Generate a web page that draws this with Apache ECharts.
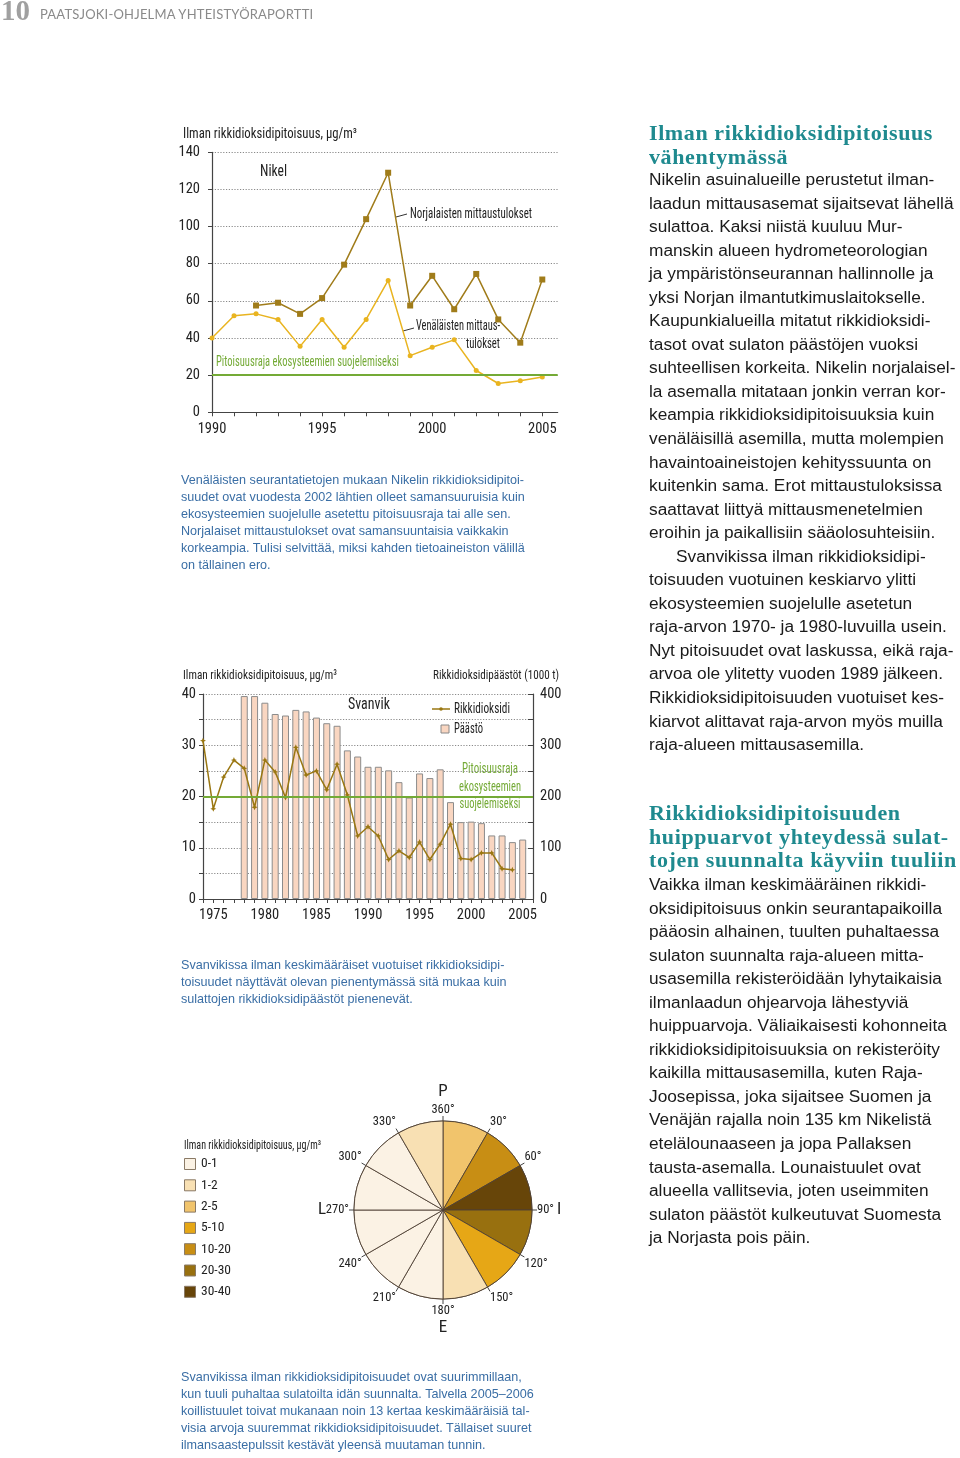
<!DOCTYPE html>
<html><head><meta charset="utf-8">
<script src="https://cdn.jsdelivr.net/npm/echarts@6/dist/echarts.min.js"></script>
<style>
html,body{margin:0;padding:0;background:#fff;}
#page{position:relative;width:960px;height:1458px;overflow:hidden;background:#fff;}
#chart{position:absolute;left:0;top:0;width:960px;height:1458px;}
.t{position:absolute;white-space:nowrap;}
.cap{font-family:'Liberation Sans',Arial,sans-serif;font-size:12.6px;line-height:16.9px;color:#3a6ea5;}
.body{font-family:'Liberation Sans',Arial,sans-serif;font-size:17.3px;line-height:23.55px;color:#1a1a1a;}
.h{font-family:'Liberation Serif',serif;font-weight:bold;font-size:22px;letter-spacing:0.6px;line-height:23.5px;color:#1f8a8f;}
</style></head>
<body>
<div id="page">
<div id="chart"></div>
<div class="t" style="left:1px;top:-6px;font-family:'Liberation Serif',serif;font-weight:bold;font-size:29px;color:#a0a0a0;">10</div>
<div class="t" style="left:40px;top:6px;font-family:Lato,'Liberation Sans',sans-serif;font-size:13px;color:#8a8a8a;letter-spacing:0.2px;">PAATSJOKI-OHJELMA YHTEISTYÖRAPORTTI</div>

<div class="t cap" style="left:181px;top:472px;">Venäläisten seurantatietojen mukaan Nikelin rikkidioksidipitoi-<br>suudet ovat vuodesta 2002 lähtien olleet samansuuruisia kuin<br>ekosysteemien suojelulle asetettu pitoisuusraja tai alle sen.<br>Norjalaiset mittaustulokset ovat samansuuntaisia vaikkakin<br>korkeampia. Tulisi selvittää, miksi kahden tietoaineiston välillä<br>on tällainen ero.</div>

<div class="t cap" style="left:181px;top:957px;">Svanvikissa ilman keskimääräiset vuotuiset rikkidioksidipi-<br>toisuudet näyttävät olevan pienentymässä sitä mukaa kuin<br>sulattojen rikkidioksidipäästöt pienenevät.</div>

<div class="t cap" style="left:181px;top:1369px;">Svanvikissa ilman rikkidioksidipitoisuudet ovat suurimmillaan,<br>kun tuuli puhaltaa sulatoilta idän suunnalta. Talvella 2005–2006<br>koillistuulet toivat mukanaan noin 13 kertaa keskimääräisiä tal-<br>visia arvoja suuremmat rikkidioksidipitoisuudet. Tällaiset suuret<br>ilmansaastepulssit kestävät yleensä muutaman tunnin.</div>

<div class="t h" style="left:649px;top:121px;">Ilman rikkidioksidipitoisuus<br>vähentymässä</div>
<div class="t body" style="left:649px;top:168px;">Nikelin asuinalueille perustetut ilman-<br>laadun mittausasemat sijaitsevat lähellä<br>sulattoa. Kaksi niistä kuuluu Mur-<br>manskin alueen hydrometeorologian<br>ja ympäristönseurannan hallinnolle ja<br>yksi Norjan ilmantutkimuslaitokselle.<br>Kaupunkialueilla mitatut rikkidioksidi-<br>tasot ovat sulaton päästöjen vuoksi<br>suhteellisen korkeita. Nikelin norjalaisel-<br>la asemalla mitataan jonkin verran kor-<br>keampia rikkidioksidipitoisuuksia kuin<br>venäläisillä asemilla, mutta molempien<br>havaintoaineistojen kehityssuunta on<br>kuitenkin sama. Erot mittaustuloksissa<br>saattavat liittyä mittausmenetelmien<br>eroihin ja paikallisiin sääolosuhteisiin.<br><span style="padding-left:27px">Svanvikissa ilman rikkidioksidipi-</span><br>toisuuden vuotuinen keskiarvo ylitti<br>ekosysteemien suojelulle asetetun<br>raja-arvon 1970- ja 1980-luvuilla usein.<br>Nyt pitoisuudet ovat laskussa, eikä raja-<br>arvoa ole ylitetty vuoden 1989 jälkeen.<br>Rikkidioksidipitoisuuden vuotuiset kes-<br>kiarvot alittavat raja-arvon myös muilla<br>raja-alueen mittausasemilla.</div>

<div class="t h" style="left:649px;top:801px;">Rikkidioksidipitoisuuden<br>huippuarvot yhteydessä sulat-<br>tojen suunnalta käyviin tuuliin</div>
<div class="t body" style="left:649px;top:873px;">Vaikka ilman keskimääräinen rikkidi-<br>oksidipitoisuus onkin seurantapaikoilla<br>pääosin alhainen, tuulten puhaltaessa<br>sulaton suunnalta raja-alueen mitta-<br>usasemilla rekisteröidään lyhytaikaisia<br>ilmanlaadun ohjearvoja lähestyviä<br>huippuarvoja. Väliaikaisesti kohonneita<br>rikkidioksidipitoisuuksia on rekisteröity<br>kaikilla mittausasemilla, kuten Raja-<br>Joosepissa, joka sijaitsee Suomen ja<br>Venäjän rajalla noin 135 km Nikelistä<br>etelälounaaseen ja jopa Pallaksen<br>tausta-asemalla. Lounaistuulet ovat<br>alueella vallitsevia, joten useimmiten<br>sulaton päästöt kulkeutuvat Suomesta<br>ja Norjasta pois päin.</div>
</div>
<script>
// ---------- DATA ----------
const nikelYears = [1990,1991,1992,1993,1994,1995,1996,1997,1998,1999,2000,2001,2002,2003,2004,2005];
const nikelRussian = [40,52,53,50,35.5,50,35,50,71,30.5,35,39,22.5,15.5,17,19];
const nikelNorwegian = [null,null,57.5,59,53,61.5,79.5,104,129,57.5,73.5,55.5,74.5,50,37.5,71.5];
const nikelLimit = 20;
const nikelXLabels = [1990,1995,2000,2005];

const svanSo2Years = [1974,1975,1976,1977,1978,1979,1980,1981,1982,1983,1984,1985,1986,1987,1988,1989,1990,1991,1992,1993,1994,1995,1996,1997,1998,1999,2000,2001,2002,2003,2004];
const svanSo2 = [30.9,17.6,23.8,27.1,25.5,17.9,27.1,24.8,19.8,29.6,24.2,25.0,21.3,26.3,20.3,12.3,14.1,12.3,7.7,9.4,8.1,11.1,7.7,10.7,14.6,7.9,7.7,9.0,9.0,5.9,5.7];
const emissionYears = [1978,1979,1980,1981,1982,1983,1984,1985,1986,1987,1988,1989,1990,1991,1992,1993,1994,1995,1996,1997,1998,1999,2000,2001,2002,2003,2004,2005];
const emissions = [396,396,383,361,358,369,366,354,343,338,290,278,258,258,251,228,198,245,236,253,189,150,151,148,124,124,111,116];
const svanLimit = 20;
const svanXLabels = [1975,1980,1985,1990,1995,2000,2005];

const windSectors = ['0-30','30-60','60-90','90-120','120-150','150-180','180-210','210-240','240-270','270-300','300-330','330-360'];
const sectorClass = ['2-5','10-20','30-40','20-30','5-10','1-2','0-1','0-1','0-1','0-1','0-1','1-2'];
const classLabels = ['0-1','1-2','2-5','5-10','10-20','20-30','30-40'];
const classColors = ['#fbf2e4','#f8e0b3','#f1c46c','#e6a716','#c88e14','#98700f','#674509'];

// ---------- STYLE ----------
const NF = "'Roboto Condensed','Liberation Sans',sans-serif";
const DARK = '#a07c1a', GOLD = '#e9b420', GREEN = '#74aa36', SO2 = '#9a7712';
const range = (a,b)=>{const r=[];for(let i=a;i<=b;i++)r.push(i);return r;};
const yearFmt = v => String(v);

const mctx = document.createElement('canvas').getContext('2d');
function measure(text,size){ mctx.font = size+'px '+NF; return mctx.measureText(text).width; }

const chart = echarts.init(document.getElementById('chart'), null, {renderer:'canvas'});
const pieData = windSectors.map((s,i)=>({name:s, value:1, itemStyle:{color:classColors[classLabels.indexOf(sectorClass[i])]}}));

const graphics = [];
function txt(text,x,y,size,targetW,opt){
  const sx = targetW ? targetW/measure(text,size) : 1;
  graphics.push({type:'text', silent:true, x:x, y:y, scaleX:sx,
    style:Object.assign({text:text,x:0,y:0,fontFamily:NF,fontSize:size,fill:'#222',textVerticalAlign:'middle',textAlign:'left'}, opt||{})});
}
function ln(x1,y1,x2,y2,color,w){ graphics.push({type:'line',silent:true,shape:{x1,y1,x2,y2},style:{stroke:color,lineWidth:w||1}}); }

// chart 1 annotations
txt('Ilman rikkidioksidipitoisuus, μg/m³',183,134,14.5,174);
txt('Nikel',260,172,17,27);
txt('Norjalaisten mittaustulokset',410,214,14.5,122);
ln(396,217,407,214,'#333',1);
txt('Venäläisten mittaus-',416,326,14.5,84);
txt('tulokset',500,344,14.5,34,{textAlign:'right'});
ln(403,331,414,328,'#333',1);
txt('Pitoisuusraja ekosysteemien suojelemiseksi',216,362,14.5,183,{fill:GREEN});
// chart 2 annotations
txt('Ilman rikkidioksidipitoisuus, μg/m³',183,676,13.5,154);
txt('Rikkidioksidipäästöt (1000 t)',559,676,13.5,126,{textAlign:'right'});
txt('Svanvik',348,705,17,42);
ln(432,709,450,709,SO2,1.5);
graphics.push({type:'circle',silent:true,shape:{cx:441,cy:709,r:1.8},style:{fill:SO2}});
txt('Rikkidioksidi',454,709,14,56);
graphics.push({type:'rect',silent:true,shape:{x:441,y:725,width:8,height:8},style:{fill:'#f9d6c1',stroke:'#888',lineWidth:1}});
txt('Päästö',454,729,14,29);
txt('Pitoisuusraja',490,769,14.5,56,{fill:GREEN,textAlign:'center'});
txt('ekosysteemien',490,787,14.5,62,{fill:GREEN,textAlign:'center'});
txt('suojelemiseksi',490,804,14.5,61,{fill:GREEN,textAlign:'center'});
// pie legend
txt('Ilman rikkidioksidipitoisuus, μg/m³',184,1146,13,137);
classLabels.forEach((c,i)=>{
  const y = 1158 + i*21.3;
  graphics.push({type:'rect',silent:true,shape:{x:184.5,y:y+0.5,width:11,height:11},style:{fill:classColors[i],stroke:'#8a7a66',lineWidth:1}});
  txt(c,201,y+6,13.5,null);
});
txt('P',443,1092,17,null,{textAlign:'center'});
txt('E',443,1328,17,null,{textAlign:'center'});
txt('I',559,1210,17,null,{textAlign:'center'});
txt('L',322,1210,17,null,{textAlign:'center'});

const axisLbl = {fontFamily:NF,fontSize:14.5,color:'#222'};
const option = {
  animation:false,
  backgroundColor:'transparent',
  textStyle:{fontFamily:NF},
  grid:[
    {left:212, top:152.3, width:345.7, height:260, containLabel:false},
    {left:203, top:694, width:330, height:205, containLabel:false}
  ],
  xAxis:[
    {gridIndex:0, type:'value', min:1990, max:2005.7,
     axisLine:{show:true,lineStyle:{color:'#444',width:1.2}},
     axisTick:{show:true,length:4,customValues:nikelYears,lineStyle:{color:'#444'}},
     axisLabel:Object.assign({customValues:nikelXLabels,margin:10,formatter:yearFmt},axisLbl),
     splitLine:{show:false}},
    {gridIndex:1, type:'value', min:1974, max:2006,
     axisLine:{show:true,lineStyle:{color:'#444',width:1.2}},
     axisTick:{show:true,length:4,customValues:range(1974,2006),lineStyle:{color:'#444'}},
     axisLabel:Object.assign({customValues:svanXLabels,margin:9,formatter:yearFmt},axisLbl),
     splitLine:{show:false}}
  ],
  yAxis:[
    {gridIndex:0, type:'value', min:0, max:140, interval:20,
     axisLine:{show:true,lineStyle:{color:'#444',width:1.2}},
     axisTick:{show:true,length:4,lineStyle:{color:'#444'}},
     axisLabel:Object.assign({margin:12},axisLbl),
     splitLine:{show:true,lineStyle:{color:'#8a8a8a',type:[1.2,1.6],width:1}}},
    {gridIndex:1, type:'value', min:0, max:40, interval:5,
     axisLine:{show:true,lineStyle:{color:'#444',width:1.2}},
     axisTick:{show:true,length:4,lineStyle:{color:'#444'}},
     axisLabel:Object.assign({margin:7,formatter:v=>v%10===0?String(v):''},axisLbl),
     splitLine:{show:true,lineStyle:{color:'#8a8a8a',type:[1.2,1.6],width:1}}},
    {gridIndex:1, type:'value', position:'right', min:0, max:400, interval:50,
     axisLine:{show:true,lineStyle:{color:'#444',width:1.2}},
     axisTick:{show:true,inside:true,length:5,lineStyle:{color:'#444'}},
     axisLabel:Object.assign({margin:7,formatter:v=>v%100===0?String(v):''},axisLbl),
     splitLine:{show:false}}
  ],
  polar:{center:[443,1210], radius:89},
  angleAxis:{type:'value', min:0, max:360, interval:30, startAngle:90, clockwise:true,
     axisLine:{show:true,lineStyle:{color:'#5a4c3c',width:1}},
     axisTick:{show:true,length:5,lineStyle:{color:'#444'}},
     axisLabel:{show:true,margin:5,fontFamily:NF,fontSize:12.5,color:'#222',
       formatter:v=> v===360?'':(v===0?'360°':v+'°')},
     splitLine:{show:false}},
  radiusAxis:{show:false, min:0, max:1},
  series:[
    {name:'Päästö', type:'bar', xAxisIndex:1, yAxisIndex:2, barWidth:7,
     data:emissionYears.map((y,i)=>[y,emissions[i]]),
     itemStyle:{color:'#f9d6c1',borderColor:'#8c8c8c',borderWidth:1}, z:2},
    {name:'Rikkidioksidi', type:'line', xAxisIndex:1, yAxisIndex:1,
     data:svanSo2Years.map((y,i)=>[y,svanSo2[i]]),
     symbol:'path://M0,-1L0.3,-0.3L1,0L0.3,0.3L0,1L-0.3,0.3L-1,0L-0.3,-0.3Z', symbolSize:6,
     lineStyle:{color:SO2,width:1.5}, itemStyle:{color:SO2}, z:4,
     markLine:{silent:true,symbol:'none',label:{show:false},lineStyle:{color:GREEN,width:2,type:'solid'},data:[{yAxis:svanLimit}]}},
    {name:'Norjalaisten mittaustulokset', type:'line', xAxisIndex:0, yAxisIndex:0,
     data:nikelYears.map((y,i)=>[y,nikelNorwegian[i]]),
     symbol:'rect', symbolSize:6, lineStyle:{color:DARK,width:1.5}, itemStyle:{color:DARK}, z:4},
    {name:'Venäläisten mittaustulokset', type:'line', xAxisIndex:0, yAxisIndex:0,
     data:nikelYears.map((y,i)=>[y,nikelRussian[i]]),
     symbol:'circle', symbolSize:5, lineStyle:{color:GOLD,width:1.5}, itemStyle:{color:GOLD}, z:4,
     markLine:{silent:true,symbol:'none',label:{show:false},lineStyle:{color:GREEN,width:2.2,type:'solid'},data:[{yAxis:nikelLimit}]}},
    {name:'Tuulen suunta', type:'pie', center:[443,1210], radius:89, startAngle:90, clockwise:true,
     label:{show:false}, labelLine:{show:false}, silent:true,
     itemStyle:{borderColor:'#4e4033',borderWidth:0.9}, data:pieData, z:1}
  ],
  graphic:graphics
};
chart.setOption(option);
</script>
</body></html>
